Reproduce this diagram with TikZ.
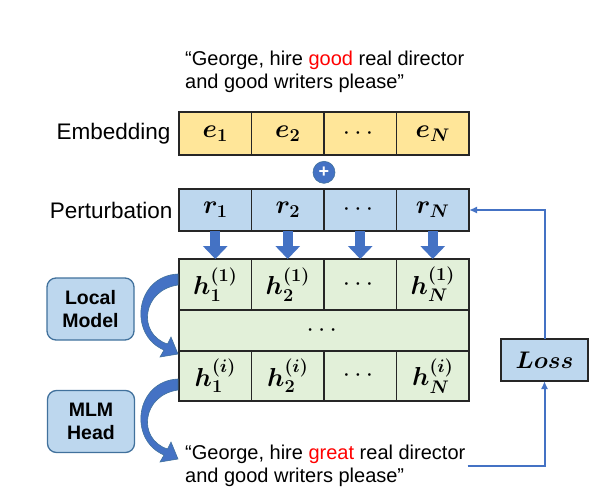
\documentclass[tikz,border=0pt]{standalone}
\usepackage{fix-cm}
\usepackage{amsmath}
\usepackage{bm}
\usepackage{fontspec}
\setmainfont{Liberation Sans}
\usetikzlibrary{arrows.meta,positioning}

\definecolor{embfill}{HTML}{FFE699}
\definecolor{perfill}{HTML}{BDD7EE}
\definecolor{hidfill}{HTML}{E2F0D9}
\definecolor{arrblue}{HTML}{4472C4}
\definecolor{boxline}{HTML}{41719C}
\definecolor{wordred}{HTML}{FF0000}

\begin{document}
\begin{tikzpicture}[x=1pt, y=-1pt, node distance=0pt,
    >=Latex,
    every node/.append style={align=center},
    cell/.style={draw=black!85, line width=1.3pt, minimum width=72.5pt, inner sep=0, outer sep=0, font=\fontsize{26}{30}\selectfont},
    emb/.style={cell, fill=embfill, minimum height=43pt},
    per/.style={cell, fill=perfill, minimum height=42pt},
    hid/.style={cell, fill=hidfill, minimum height=50pt},
    rowlabel/.style={font=\fontsize{22.5}{26}\selectfont},
    sentence/.style={align=left, inner sep=2pt, font=\fontsize{20}{23}\selectfont},
    modbox/.style={draw=boxline, line width=1.3pt, fill=perfill, rounded corners=9pt, minimum width=87pt, minimum height=62pt, font=\bfseries\fontsize{19.5}{23}\selectfont},
    pushdown/.style={arrblue, line width=10pt, -{Triangle[length=13pt,width=24pt]}},
    feedback/.style={arrblue, line width=2pt, -{Latex[length=8pt,width=7pt]}}]
    \useasboundingbox (0,0) rectangle (598,496);

   % input sentence and embeddings
   \node [sentence, anchor=west] (src) at (183,71.5) {“George, hire \textcolor{wordred}{good} real director\\and good writers please”};
   \node [emb, anchor=north west] (e1) at (179,112) {$\bm{e_1}$};
   \node [emb, right=of e1] (e2) {$\bm{e_2}$};
   \node [emb, right=of e2] (e3) {$\cdots$};
   \node [emb, right=of e3] (eN) {$\bm{e_N}$};
   \node [rowlabel, left=5pt of e1] (embl) {Embedding};

   \node [circle, fill=arrblue, draw=boxline, line width=0.6pt, minimum size=22pt, inner sep=0,
          text=white, font=\bfseries\fontsize{18}{18}\selectfont, below=6pt of e2.south east] (plus) {+};

   % perturbation
   \node [per, below=34pt of e1] (r1) {$\bm{r_1}$};
   \node [per, right=of r1] (r2) {$\bm{r_2}$};
   \node [per, right=of r2] (r3) {$\cdots$};
   \node [per, right=of r3] (rN) {$\bm{r_N}$};
   \node [rowlabel, left=3pt of r1] (perl) {Perturbation};

   % hidden states
   \node [hid, minimum height=51pt, below=28pt of r1] (h1) {$\bm{h^{(1)}_1}$};
   \node [hid, minimum height=51pt, right=of h1] (h2) {$\bm{h^{(1)}_2}$};
   \node [hid, minimum height=51pt, right=of h2] (h3) {$\cdots$};
   \node [hid, minimum height=51pt, right=of h3] (hN) {$\bm{h^{(1)}_N}$};
   \node [cell, fill=hidfill, minimum width=290pt, minimum height=41pt, anchor=north west] (hmid) at (h1.south west) {$\cdots$};
   \node [hid, anchor=north west] (hi1) at (hmid.south west) {$\bm{h^{(i)}_1}$};
   \node [hid, right=of hi1] (hi2) {$\bm{h^{(i)}_2}$};
   \node [hid, right=of hi2] (hi3) {$\cdots$};
   \node [hid, right=of hi3] (hiN) {$\bm{h^{(i)}_N}$};

   \foreach \a/\b in {r1/h1, r2/h2, r3/h3, rN/hN}
      \draw [pushdown] (\a.south) -- (\b.north);

   % modules on the left
   \node [modbox] (local) at (90.5,309) {Local\\Model};
   \node [modbox] (mlm) at (91,421.5) {MLM\\Head};
   \foreach \dy in {0,105}
      \fill [arrblue, draw=boxline, line width=0.6pt, shift={(0,\dy)}]
        (178,274) .. controls (135,276) and (128,335) .. (164,350) -- (160,357) -- (178,354)
        -- (171,337) -- (167.5,344) .. controls (137,334) and (142,290) .. (178,285) -- cycle;

   % output sentence and loss
   \node [sentence, anchor=west] (tgt) at (183,466) {“George, hire \textcolor{wordred}{great} real director\\and good writers please”};
   \node [per, minimum width=87pt, font=\fontsize{24}{28}\selectfont] (loss) at (544.5,360) {$\bm{Loss}$};

   \draw [feedback] (loss.north) |- (rN.east);
   \draw [feedback] (tgt.east) -| (loss.south);
\end{tikzpicture}
\end{document}
